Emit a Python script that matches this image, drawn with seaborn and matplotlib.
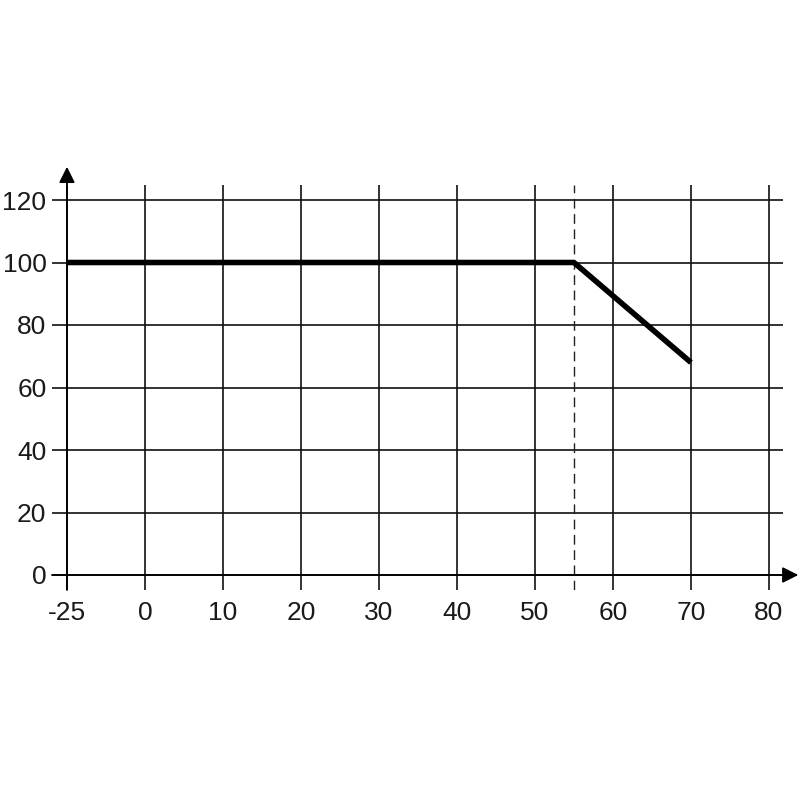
import numpy as np
import pandas as pd
import seaborn as sns
import matplotlib.pyplot as plt

# Derating curve values
temperature = [-25, 55, 70]
output_pct = [100, 100, 68]
x_ticks = [-25, 0, 10, 20, 30, 40, 50, 60, 70, 80]
y_ticks = [0, 20, 40, 60, 80, 100, 120]
derating_start = 55

df = pd.DataFrame({'temperature': temperature, 'output': output_pct})

sns.set_style('white')
plt.rcParams['font.family'] = ['Liberation Sans', 'DejaVu Sans']

fig = plt.figure(figsize=(8, 8), dpi=100)
ax = fig.add_axes([52 / 800, 210 / 800, 731 / 800, 405 / 800])


# the axis is compressed below zero: -25 sits one grid step left of 0
def fwd(x):
    x = np.asarray(x, dtype=float)
    return np.where(x < 0, x * 0.4, x)


def inv(x):
    x = np.asarray(x, dtype=float)
    return np.where(x < 0, x / 0.4, x)


ax.set_xscale('function', functions=(fwd, inv))
ax.set_xlim(-29.8, 81.8)
ax.set_ylim(-4.8, 124.8)

sns.lineplot(data=df, x='temperature', y='output', color='black', linewidth=4.0,
             sort=False, ax=ax, zorder=5, solid_capstyle='butt')

ax.set_xticks(x_ticks)
ax.set_xticklabels([str(t) for t in x_ticks])
ax.set_yticks(y_ticks)
ax.set_yticklabels([str(t) for t in y_ticks])
ax.tick_params(length=0, labelsize=19, colors='#1a1a1a')
ax.tick_params(axis='x', pad=8)
ax.tick_params(axis='y', pad=4)
ax.grid(True, color='#111111', linewidth=1.2)
ax.set_axisbelow(True)
for s in ax.spines.values():
    s.set_visible(False)
ax.set_xlabel('')
ax.set_ylabel('')

ax.axvline(derating_start, color='#222222', linewidth=1.0, linestyle=(0, (7, 4)), zorder=3)

# axis lines with arrow heads
arrow = dict(arrowstyle='-|>', color='black', lw=1.3, mutation_scale=24, shrinkA=0, shrinkB=0)
ax.annotate('', xy=(1.021, 0), xytext=(0, 0),
            xycoords=('axes fraction', 'data'), textcoords=('axes fraction', 'data'),
            arrowprops=arrow, annotation_clip=False)
ax.annotate('', xy=(-25, 1.045), xytext=(-25, 0),
            xycoords=('data', 'axes fraction'), textcoords=('data', 'axes fraction'),
            arrowprops=arrow, annotation_clip=False)

plt.savefig('out.png', dpi=100)
